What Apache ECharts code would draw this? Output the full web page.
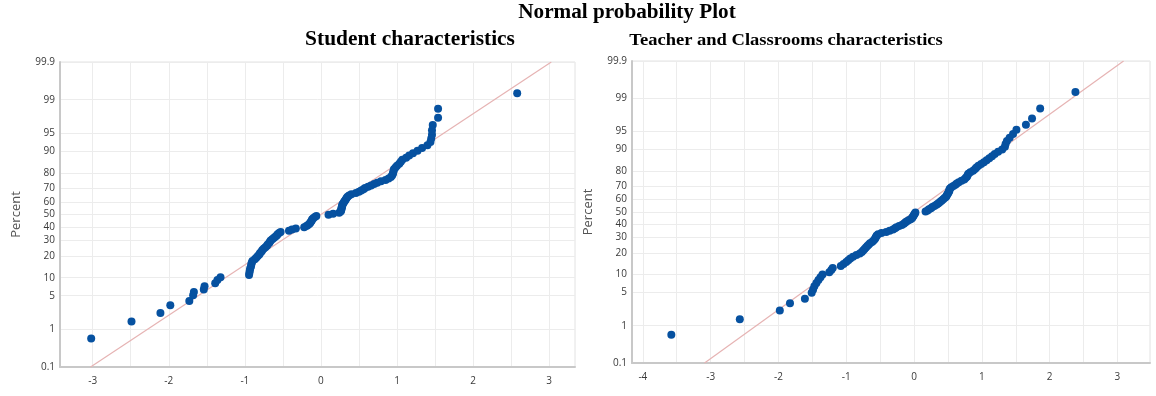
<!DOCTYPE html>
<html><head><meta charset="utf-8">
<script src="https://cdn.jsdelivr.net/npm/echarts@6/dist/echarts.min.js"></script>
<style>html,body{margin:0;padding:0;background:#fff}#c{width:1156px;height:396px}</style>
</head><body><div id="c"></div>
<script>
// ---- data ----
const yTickPercents = [0.1,1,5,10,20,30,40,50,60,70,80,90,95,99,99.9];
const xLabelsLeft = [-3,-2,-1,0,1,2,3];
const xGridLeft = [-3,-2.5,-2,-1.5,-1,-0.5,0,0.5,1,1.5,2,2.5,3];
const xLabelsRight = [-4,-3,-2,-1,0,1,2,3];
const xGridRight = [-4,-3.5,-3,-2.5,-2,-1.5,-1,-0.5,0,0.5,1,1.5,2,2.5,3,3.5];

const studentX = [-3.02,-2.49,-2.11,-1.98,-1.73,-1.68,-1.67,-1.54,-1.53,-1.39,-1.36,-1.32,
 -0.945,-0.94,-0.935,-0.93,-0.92,-0.915,-0.91,-0.90,-0.87,-0.85,-0.83,-0.81,-0.80,-0.78,-0.77,-0.75,-0.73,-0.71,-0.70,-0.68,-0.67,-0.66,-0.64,-0.62,-0.60,-0.58,-0.57,-0.55,
 -0.53,
 -0.42,-0.38,-0.33,-0.22,-0.19,-0.17,-0.15,-0.14,-0.13,-0.12,-0.115,-0.10,-0.08,-0.06,
 0.10,0.16,0.24,0.26,0.265,0.27,0.27,0.275,0.28,0.28,0.29,0.30,0.31,0.32,0.33,0.34,0.35,0.37,0.40,0.46,
 0.50,0.53,0.56,0.58,0.62,0.66,0.70,0.74,0.79,0.85,0.89,0.92,0.935,0.945,0.95,0.955,0.96,0.98,1.00,1.03,
 1.05,1.07,1.12,1.16,1.21,1.27,1.33,1.40,1.44,1.45,1.46,1.46,1.47,1.54,1.54,2.58];
const studentPct = [0.6,1.5,2.3,3.3,4.0,5.1,5.8,6.4,7.3,8.2,9.2,10.2,
 11.0,11.9,12.8,13.7,14.6,15.5,16.4,17.3,18.2,19.1,20.0,20.9,21.8,22.7,23.6,24.5,25.4,26.3,27.2,28.1,29.0,29.9,30.8,31.7,32.6,33.5,34.4,35.3,
 36.2,
 37.1,38.0,38.9,39.8,40.7,41.6,42.5,43.4,44.3,45.2,46.1,47.0,47.9,48.8,
 49.7,50.6,51.5,52.4,53.3,54.2,55.1,56.0,56.9,57.8,58.7,59.6,60.5,61.4,62.3,63.2,64.1,65.0,65.9,66.8,
 67.7,68.6,69.5,70.4,71.3,72.2,73.1,74.0,74.9,75.8,76.7,77.6,78.5,79.4,80.3,81.2,82.1,83.0,83.9,84.8,
 85.7,86.6,87.5,88.4,89.3,90.2,91.1,92.0,92.9,93.8,94.7,95.6,96.5,97.5,98.4,99.3];

const teacherX = [-3.58,-2.57,-1.98,-1.83,-1.61,-1.51,-1.49,-1.47,-1.44,-1.41,
 -1.38,-1.35,-1.25,-1.22,-1.20,-1.08,-1.04,-1.00,-0.97,-0.94,
 -0.90,-0.85,-0.80,-0.77,-0.75,-0.73,-0.71,-0.69,-0.67,-0.65,
 -0.62,-0.60,-0.58,-0.57,-0.56,-0.55,-0.53,-0.48,-0.41,-0.36,
 -0.31,-0.28,-0.26,-0.22,-0.18,-0.15,-0.13,-0.11,-0.08,-0.05,
 -0.03,-0.02,-0.01,0.00,0.01,0.02,0.17,0.20,0.22,0.25,
 0.27,0.30,0.33,0.35,0.37,0.39,0.41,0.43,0.45,0.47,
 0.48,0.49,0.50,0.51,0.52,0.52,0.53,0.55,0.58,0.61,
 0.63,0.66,0.70,0.74,0.76,0.78,0.79,0.80,0.83,0.87,
 0.90,0.92,0.95,0.99,1.03,1.07,1.11,1.15,1.19,1.24,
 1.30,1.34,1.35,1.37,1.41,1.46,1.51,1.65,1.74,1.86,2.38];
const teacherPct = [0.6,1.4,2.2,3.1,3.8,4.9,5.6,6.4,7.3,8.2,
 9.1,10.0,10.9,11.8,12.6,13.5,14.4,15.3,16.2,17.1,
 18.0,18.9,19.8,20.7,21.6,22.5,23.4,24.3,25.2,26.1,
 27.0,27.9,28.8,29.7,30.6,31.5,32.4,33.3,34.2,35.1,
 36.0,36.9,37.8,38.7,39.6,40.5,41.4,42.3,43.2,44.1,
 45.0,45.9,46.8,47.7,48.6,49.5,50.4,51.3,52.2,53.1,
 54.0,54.9,55.8,56.7,57.6,58.5,59.4,60.3,61.2,62.1,
 63.0,63.9,64.8,65.7,66.6,67.5,68.4,69.3,70.2,71.1,
 72.0,72.9,73.8,74.7,75.6,76.5,77.4,78.3,79.2,80.1,
 81.0,81.9,82.8,83.7,84.6,85.5,86.4,87.3,88.2,89.1,
 90.0,90.9,91.8,92.7,93.6,94.5,95.4,96.3,97.2,98.3,99.3];

const studentFitMean = 0.0, studentFitSd = 0.98;
const teacherFitMean = 0.0, teacherFitSd = 1.0;

// ---- normal probability scale (inverse normal CDF) ----
function normInv(p){
 const a=[-3.969683028665376e+01,2.209460984245205e+02,-2.759285104469687e+02,1.383577518672690e+02,-3.066479806614716e+01,2.506628277459239e+00];
 const b=[-5.447609879822406e+01,1.615858368580409e+02,-1.556989798598866e+02,6.680131188771972e+01,-1.328068155288572e+01];
 const c=[-7.784894002430293e-03,-3.223964580411365e-01,-2.400758277161838e+00,-2.549671010243304e+00,4.374664141464968e+00,2.938163982698783e+00];
 const d=[7.784695709041462e-03,3.224671290700398e-01,2.445134137142996e+00,3.754408661907416e+00];
 const pl=0.02425, ph=1-pl; let q,r;
 if(p<pl){q=Math.sqrt(-2*Math.log(p));return (((((c[0]*q+c[1])*q+c[2])*q+c[3])*q+c[4])*q+c[5])/((((d[0]*q+d[1])*q+d[2])*q+d[3])*q+1);}
 if(p<=ph){q=p-0.5;r=q*q;return (((((a[0]*r+a[1])*r+a[2])*r+a[3])*r+a[4])*r+a[5])*q/(((((b[0]*r+b[1])*r+b[2])*r+b[3])*r+b[4])*r+1);}
 q=Math.sqrt(-2*Math.log(1-p));return -(((((c[0]*q+c[1])*q+c[2])*q+c[3])*q+c[4])*q+c[5])/((((d[0]*q+d[1])*q+d[2])*q+d[3])*q+1);
}
const yTickZ = yTickPercents.map(p => normInv(p/100));
const zMin = yTickZ[0], zMax = yTickZ[yTickZ.length-1];
function yFmt(v){
  for (let i=0;i<yTickZ.length;i++) if (Math.abs(yTickZ[i]-v)<1e-6) return String(yTickPercents[i]);
  return '';
}
const studentPts = studentX.map((x,i)=>[x, normInv(studentPct[i]/100)]);
const teacherPts = teacherX.map((x,i)=>[x, normInv(teacherPct[i]/100)]);
const studentFit = [[studentFitMean+studentFitSd*zMin, zMin],[studentFitMean+studentFitSd*zMax, zMax]];
const teacherFit = [[teacherFitMean+teacherFitSd*zMin, zMin],[teacherFitMean+teacherFitSd*zMax, zMax]];

const axisLineStyle = {color:'#c8c8c8', width:2};
const gridLine = {show:true, lineStyle:{color:'#ececec', width:1}};
const lblStyle = {color:'#3a3a3a', fontSize:10, fontFamily:'"Open Sans", sans-serif'};

function xAxis(gi, min, max, labels, grid){
  return {gridIndex:gi, type:'value', min:min, max:max,
    axisLine:{show:true, onZero:false, lineStyle:axisLineStyle},
    axisTick:{show:false, customValues:grid},
    axisLabel:Object.assign({customValues:labels, margin:9, formatter:v=>String(v)}, lblStyle),
    splitLine:gridLine};
}
function yAxis(gi){
  return {gridIndex:gi, type:'value', min:zMin, max:zMax,
    axisLine:{show:true, onZero:false, lineStyle:axisLineStyle},
    axisTick:{show:false, customValues:yTickZ},
    axisLabel:Object.assign({customValues:yTickZ, margin:5, formatter:yFmt}, lblStyle),
    splitLine:gridLine,
    name:'Percent', nameLocation:'middle', nameRotate:90, nameGap:37,
    nameTextStyle:{fontSize:13, color:'#555', fontFamily:'"Open Sans", sans-serif'}};
}
const dotColor = '#0651a0';
const fitColor = '#e6b3b3';
const serif = '"Liberation Serif", "Times New Roman", serif';

const chart = echarts.init(document.getElementById('c'), null, {renderer:'canvas'});
chart.setOption({
  animation:false,
  backgroundColor:'#fff',
  graphic:[
    {type:'text', x:627, y:13, scaleX:1.06, style:{text:'Normal probability Plot', align:'center', verticalAlign:'middle', font:'bold 20px ' + serif, fill:'#000'}},
    {type:'text', x:410, y:40, scaleX:1.07, style:{text:'Student characteristics', align:'center', verticalAlign:'middle', font:'bold 20px ' + serif, fill:'#000'}},
    {type:'text', x:786, y:41, scaleX:1.09, style:{text:'Teacher and Classrooms characteristics', align:'center', verticalAlign:'middle', font:'bold 17px ' + serif, fill:'#000'}}
  ],
  grid:[
    {left:60, top:62, width:515, height:305, show:true, borderColor:'#e2e2e2', borderWidth:1, containLabel:false},
    {left:632, top:61, width:518, height:302, show:true, borderColor:'#e2e2e2', borderWidth:1, containLabel:false}
  ],
  xAxis:[ xAxis(0,-3.43,3.34,xLabelsLeft,xGridLeft), xAxis(1,-4.16,3.48,xLabelsRight,xGridRight) ],
  yAxis:[ yAxis(0), yAxis(1) ],
  series:[
    {type:'line', xAxisIndex:0, yAxisIndex:0, data:studentFit, symbol:'none', lineStyle:{color:fitColor, width:1.2}, z:2, silent:true},
    {type:'scatter', xAxisIndex:0, yAxisIndex:0, data:studentPts, symbolSize:8, itemStyle:{color:dotColor, opacity:1}, z:3},
    {type:'line', xAxisIndex:1, yAxisIndex:1, data:teacherFit, symbol:'none', lineStyle:{color:fitColor, width:1.2}, z:2, silent:true},
    {type:'scatter', xAxisIndex:1, yAxisIndex:1, data:teacherPts, symbolSize:8, itemStyle:{color:dotColor, opacity:1}, z:3}
  ]
});
</script></body></html>
